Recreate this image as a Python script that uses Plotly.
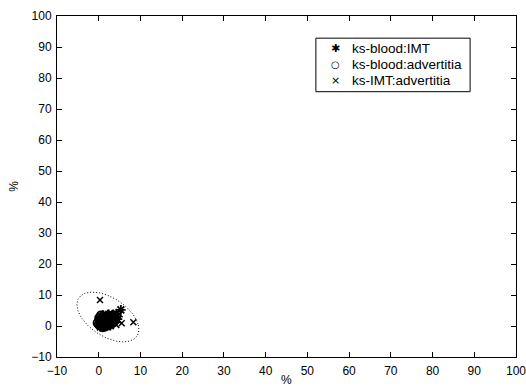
import numpy as np
import plotly.graph_objects as go

# ks-blood:IMT (stars)
s1_x = [0.2,0.5,0.8,1.0,1.2,1.5,1.8,2.0,2.3,2.6,3.0,3.4,3.8,4.2,5.3,0.4,1.1,1.6,2.1,2.8,3.2,0.7,1.4,2.4,3.6,4.5]
s1_y = [0.3,1.2,2.0,0.5,2.8,1.5,0.2,2.4,1.0,3.2,1.8,3.6,2.6,4.0,5.2,-0.3,3.5,0.8,1.6,0.1,2.9,1.9,2.2,3.8,1.2,2.2]
# ks-blood:advertitia (open circles)
s2_x = [0.0,0.3,0.6,0.9,1.2,1.5,1.8,2.1,2.4,2.7,3.0,0.1,0.5,1.0,1.6,2.2,2.9,3.5,0.8,1.3,1.9,2.6,0.4,1.1,-0.3,0.2,1.7,2.5]
s2_y = [0.5,1.5,0.0,2.5,1.0,3.0,0.4,1.8,2.8,0.9,2.0,2.6,3.4,-0.4,-0.2,0.2,3.0,1.2,1.0,2.2,2.6,1.6,0.8,0.0,1.0,2.0,1.4,0.5]
# ks-IMT:advertitia (x)
s3_x = [0.3,8.3,5.5,4.6,3.8,5.0,4.2,2.8,1.5,0.8,2.0,3.3]
s3_y = [8.4,1.2,0.9,1.8,3.2,3.8,0.3,4.3,4.0,0.9,-0.3,2.3]

# confidence ellipse parameters (center, conjugate half-axis vectors)
ell_center = (2.2, 2.9)
ell_u = (7.3, -2.6)
ell_v = (1.4, -7.6)

labels = ["ks-blood:IMT", "ks-blood:advertitia", "ks-IMT:advertitia"]
legend_glyphs = ["\u2731", "\u25CB", "\u00D7"]
tick_vals = list(range(-10, 101, 10))
x_title = "%"
y_title = "%"

t = np.linspace(0, 2*np.pi, 200)
ex = ell_center[0] + ell_u[0]*np.cos(t) + ell_v[0]*np.sin(t)
ey = ell_center[1] + ell_u[1]*np.cos(t) + ell_v[1]*np.sin(t)

FONT = "Liberation Sans, Arial"

fig = go.Figure()
fig.add_trace(go.Scatter(x=ex, y=ey, mode="lines", showlegend=False,
                         line=dict(color="black", width=1, dash="1px,2px"), hoverinfo="skip"))
fig.add_trace(go.Scatter(x=s2_x, y=s2_y, mode="markers", name=labels[1], showlegend=False,
                         marker=dict(symbol="circle-open", size=8, color="black", line=dict(width=1.8))))
fig.add_trace(go.Scatter(x=s1_x, y=s1_y, mode="markers", name=labels[0], showlegend=False,
                         marker=dict(symbol="asterisk-open", size=8, color="black", line=dict(width=1.8, color="black"))))
fig.add_trace(go.Scatter(x=s3_x, y=s3_y, mode="markers", name=labels[2], showlegend=False,
                         marker=dict(symbol="x-thin-open", size=6, color="black", line=dict(width=1.5, color="black"))))

axis_common = dict(range=[-10, 100], tickvals=tick_vals, ticks="inside", ticklen=5,
                   tickcolor="black", showline=True, linecolor="black", linewidth=1,
                   mirror="ticks", showgrid=False, zeroline=False,
                   ticklabeloverflow="allow", automargin=False,
                   tickfont=dict(family=FONT, size=12, color="black"))

fig.update_layout(
    width=526, height=388,
    margin=dict(l=57, r=10, t=16, b=31),
    paper_bgcolor="white", plot_bgcolor="white",
    font=dict(family=FONT, size=12, color="black"),
    xaxis=dict(**axis_common, ticklabelstandoff=3),
    yaxis=dict(**axis_common, ticklabelstandoff=2,
               title=dict(text=y_title, standoff=10, font=dict(size=12))),
    showlegend=False,
)

# x-axis title placed just under the tick labels
fig.add_annotation(xref="paper", yref="paper", x=0.5, y=0, yshift=-23, text=x_title,
                   showarrow=False, xanchor="center", yanchor="middle",
                   font=dict(family=FONT, size=12, color="black"))

# custom legend box (tighter row spacing than the native legend)
box_x0, box_x1, box_y0, box_y1 = 0.564, 0.9, 0.778, 0.935
fig.add_shape(type="rect", xref="paper", yref="paper", x0=box_x0, x1=box_x1, y0=box_y0, y1=box_y1,
              line=dict(color="black", width=1), fillcolor="white", layer="above")
row_y = [0.905, 0.858, 0.811]
glyph_sizes = [11, 10, 11]
for lab, g, gs, ry in zip(labels, legend_glyphs, glyph_sizes, row_y):
    fig.add_annotation(xref="paper", yref="paper", x=0.606, y=ry, text=g, showarrow=False,
                       xanchor="center", yanchor="middle", font=dict(family="DejaVu Sans", size=gs, color="black"))
    fig.add_annotation(xref="paper", yref="paper", x=0.638, y=ry, text=lab, showarrow=False,
                       xanchor="left", yanchor="middle", font=dict(family=FONT, size=13.5, color="black"))

fig.write_html("out.html")
